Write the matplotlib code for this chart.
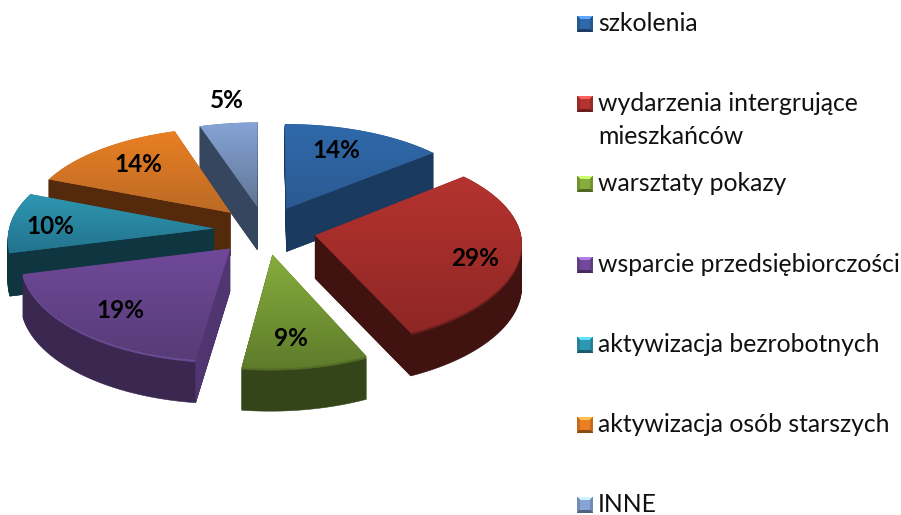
import numpy as np
import matplotlib
matplotlib.use("Agg")
import matplotlib.pyplot as plt
from matplotlib.patches import Wedge, Polygon
from matplotlib.path import Path
from matplotlib.transforms import Transform, Affine2D
from matplotlib.colors import to_rgb

# --- data ---
categories = ["szkolenia", "wydarzenia intergrujące\nmieszkańców", "warsztaty pokazy",
              "wsparcie przedsiębiorczości", "aktywizacja bezrobotnych",
              "aktywizacja osób starszych", "INNE"]
shares = [14, 29, 9, 19, 10, 14, 5]

# --- styles ---
top_light = ["#2f69aa", "#b5332f", "#86ad3c", "#70499a", "#2e97b2", "#e97f22", "#86a4d6"]
top_dark = ["#2b5a92", "#8e2725", "#5f7c2c", "#573c77", "#23738d", "#bb6a26", "#617696"]
side = ["#1a3658", "#401210", "#35451a", "#3a2850", "#0f3640", "#52290a", "#36455f"]
cut = ["#1b3a60", "#401311", "#35451a", "#503570", "#0f3640", "#55290b", "#36465f"]
lip = ["#2a5488", "#6a1f1c", "#546e28", "#6a4a92", "#1c5a6e", "#84461a", "#55688a"]
label_xy = [(336, 150), (475, 258), (291, 338), (120, 311), (50, 226), (138, 165), (227, 100)]
FONT = "Lato"
CX, CY, RX, RY, KX, KY, SHEAR, DEPTH = 265, 230, 205, 97, 0.08, 0.10, 3.0, 43
EXPLODE = 0.25
LEGEND_STEP, LINE_STEP = 80.2, 33


class Persp(Transform):
    input_dims = output_dims = 2
    is_separable = False
    has_inverse = False

    def __init__(self, dy=0):
        super().__init__()
        self.dy = dy

    def transform_non_affine(self, pts):
        pts = np.asarray(pts, float)
        wx = 1 + KX * pts[:, 1]
        wy = 1 + KY * pts[:, 1]
        return np.column_stack([CX + RX * pts[:, 0] / wx + SHEAR * np.minimum(pts[:, 1], 0),
                                CY - RY * pts[:, 1] / wy + self.dy])

    def transform_path_non_affine(self, path):
        big = path.transformed(Affine2D().scale(2000))
        polys = big.to_polygons(closed_only=False)
        verts = np.vstack(polys) / 2000
        return Path(self.transform_non_affine(verts), closed=False)


fig = plt.figure(figsize=(9.01, 5.15), dpi=100, facecolor="white")
ax = fig.add_axes([0, 0, 1, 1])
wedges, _ = ax.pie(shares, explode=[EXPLODE] * len(shares), startangle=90, counterclock=False)
ax.set_aspect("auto")
ax.axis("off")

order = sorted(range(len(wedges)), key=lambda i: -wedges[i].center[1])
for rank, i in enumerate(order):
    w = wedges[i]
    base = 10 * (rank + 1)
    c0, r, t1, t2 = w.center, w.r, w.theta1, w.theta2
    for d in range(DEPTH, 0, -1):
        col = lip[i] if d <= 2 else side[i]
        ax.add_patch(Wedge(c0, r, t1, t2, facecolor=col, edgecolor=col, lw=0.4,
                           transform=Persp(d) + ax.transData, zorder=base))
    top_t = Persp(0)
    for th, normal in ((t1, t1 - 90), (t2, t2 + 90)):
        if np.sin(np.radians(normal)) >= 0:
            continue  # this cut face looks away from the viewer
        e = np.array([[c0[0], c0[1]],
                      [c0[0] + r * np.cos(np.radians(th)), c0[1] + r * np.sin(np.radians(th))]])
        a = top_t.transform(e)
        quad = np.vstack([a, a[::-1] + [0, DEPTH]])
        ax.add_patch(Polygon(quad, closed=True, facecolor=cut[i], edgecolor=cut[i], lw=0.3,
                             zorder=base + 1))
    w.set_transform(top_t + ax.transData)
    w.set_facecolor(top_dark[i])
    w.set_edgecolor("none")
    w.set_zorder(base + 2)
    ext = top_t.transform_path(w.get_path()).get_extents()
    g = np.linspace(0, 1, 64)[:, None, None]
    grad = (1 - g) * np.array(to_rgb(top_light[i])) + g * np.array(to_rgb(top_dark[i]))
    im = ax.imshow(grad, extent=(ext.x0, ext.x1, ext.y1, ext.y0), aspect="auto",
                   interpolation="bilinear", zorder=base + 3)
    im.set_clip_path(w)

for (x, y), v in zip(label_xy, shares):
    ax.text(x, y, f"{v}%", ha="center", va="center", fontsize=17.5, fontweight="bold",
            color="black", family=FONT, zorder=200)

# legend
for i, cat in enumerate(categories):
    base_y = 31 + LEGEND_STEP * i
    x0, y0, n = 577, base_y - 15, 16
    yy, xx = np.mgrid[0:n, 0:n] + 0.5
    dtop, dbot, dl, dr = yy, n - yy, xx, n - xx
    m = np.minimum.reduce([dtop, dbot, dl, dr])
    base_c = np.array(to_rgb(top_light[i]))
    img = np.tile(base_c, (n, n, 1))
    img[(m == dtop) & (m < 3)] = np.clip(base_c * 1.3 + 0.12, 0, 1)
    img[((m == dl) | (m == dr)) & (m < 3)] = base_c * 0.85
    img[(m == dbot) & (m < 3)] = base_c * 0.6
    ax.imshow(img, extent=(x0, x0 + n, y0 + n, y0), aspect="auto",
              interpolation="nearest", zorder=150)
    for k, line in enumerate(cat.split("\n")):
        ax.text(598, base_y + LINE_STEP * k, line, ha="left", va="baseline", fontsize=17.8,
                color="#111111", family=FONT, zorder=200)

ax.set_xlim(0, 901)
ax.set_ylim(515, 0)
fig.savefig("out.png", dpi=100, facecolor="white")
